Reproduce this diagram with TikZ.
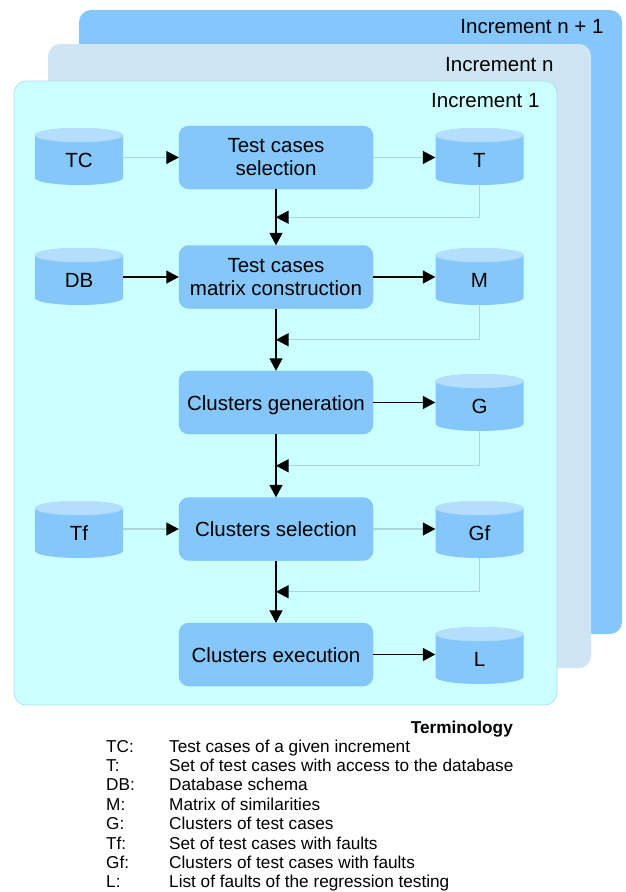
\documentclass[tikz,border=0pt]{standalone}
\usepackage{fontspec}
\setmainfont{Liberation Sans}
\usetikzlibrary{arrows.meta,calc}

\definecolor{panelback}{HTML}{85C7FC}
\definecolor{panelmid}{HTML}{CFE5F3}
\definecolor{panelfront}{HTML}{CCFFFF}
\definecolor{panelline}{HTML}{A9DDE6}
\definecolor{boxfill}{HTML}{85C7FA}
\definecolor{boxline}{HTML}{7DBDEB}
\definecolor{cyltop}{HTML}{B5DEFD}
\definecolor{flowlight}{HTML}{A9D5DD}

\tikzset{
  panel/.style={rounded corners=12pt},
  paneltitle/.style={anchor=east, font=\fontsize{20.5}{24}\selectfont},
  process/.style={draw=boxline, fill=boxfill, rounded corners=10pt,
    minimum width=194pt, minimum height=63pt, align=center, inner sep=0pt,
    font=\fontsize{20.5}{23}\selectfont},
  oneline/.style={text height=18pt, text depth=2.4pt},
  store/.style={minimum width=88pt, minimum height=57pt, inner sep=0pt,
    text height=22pt, text depth=0.4pt,
    font=\fontsize{20.5}{24}\selectfont},
  tip/.style={-{Triangle[length=12.5pt,width=13pt,color=black,fill=black]}},
  strong/.style={tip, draw=black, line width=1.3pt},
  faint/.style={tip, draw=flowlight, line width=1.1pt},
  term/.style={anchor=base west, inner sep=0pt, font=\fontsize{17.2}{19}\selectfont},
}

% database cylinder: #1 name, #2 x centre, #3 top edge (downwards), #4 label
\newcommand\storage[4]{%
  \begin{scope}[shift={(#2,-#3)}]
    \fill[boxfill] (-44,-7) -- (-44,-50)
      arc[start angle=180,end angle=360,x radius=44pt,y radius=7pt]
      -- (44,-7) arc[start angle=0,end angle=180,x radius=44pt,y radius=7pt] -- cycle;
    \fill[cyltop] (0,-7) ellipse[x radius=44pt,y radius=7pt];
    \draw[cyltop!80!boxfill, line width=0.6pt] (-44,-7) arc[start angle=180,end angle=360,x radius=44pt,y radius=7pt];
  \end{scope}
  \node[store] (#1) at (#2,-#3-28.5) {#4};
}

\begin{document}
\begin{tikzpicture}[x=1pt,y=1pt]
\useasboundingbox (0,0) rectangle (625,-892);

% stacked increments
\fill[panel, panelback] (79,-10) rectangle (622,-634);
\node[paneltitle] (inc3) at (607,-27) {Increment n + 1};
\fill[panel, panelmid] (48,-44) rectangle (591,-668);
\node[paneltitle] (inc2) at (557,-65) {Increment n};
\draw[panel, fill=panelfront, draw=panelline, line width=0.6pt] (14,-81) rectangle (557,-705);
\node[paneltitle] (inc1) at (543,-101) {Increment 1};

% process steps
\node[process] (sel)  at (276,-157.5) {Test cases\\selection};
\node[process] (mat)  at (276,-277)   {Test cases\\matrix construction};
\node[process, oneline] (gen)  at (276,-402.5) {Clusters generation};
\node[process, oneline] (csel) at (276,-529)   {Clusters selection};
\node[process, oneline] (exe)  at (276,-654.5) {Clusters execution};

% data stores
\storage{TC}{79}{128}{TC}
\storage{T}{479.5}{128}{T}
\storage{DB}{79}{248}{DB}
\storage{M}{479.5}{248}{M}
\storage{G}{479.5}{374}{G}
\storage{Tf}{79}{501}{Tf}
\storage{Gf}{479.5}{501}{Gf}
\storage{L}{479.5}{627}{L}

% main flow
\draw[strong] (sel) -- (mat);
\draw[strong] (mat) -- (gen);
\draw[strong] (gen) -- (csel);
\draw[strong] (csel) -- (exe);

% inputs and outputs
\draw[faint]  (TC.east |- sel) -- (sel.west);
\draw[faint]  (sel.east) -- (T.west |- sel);
\draw[strong] (DB.east |- mat) -- (mat.west);
\draw[strong] (mat.east) -- (M.west |- mat);
\draw[strong] (gen.east) -- (G.west |- gen);
\draw[faint]  (Tf.east |- csel) -- (csel.west);
\draw[faint]  (csel.east) -- (Gf.west |- csel);
\draw[strong] (exe.east) -- (L.west |- exe);

% results fed back into the flow
\coordinate (j1) at ($(sel.south)!0.5!(mat.north)$);
\coordinate (j2) at ($(mat.south)!0.5!(gen.north)$);
\coordinate (j3) at ($(gen.south)!0.5!(csel.north)$);
\coordinate (j4) at ($(csel.south)!0.5!(exe.north)$);
\draw[faint] (T.south) |- (j1);
\draw[faint] (M.south) |- (j2);
\draw[faint] (G.south) |- (j3);
\draw[faint] (Gf.south) |- (j4);

% terminology
\node[anchor=base east, inner sep=0pt, font=\fontsize{17.2}{19}\selectfont\bfseries] (termhead) at (513,-733) {Terminology};
\foreach \n/\a/\d [count=\i from 0] in {
  tc/TC:/Test cases of a given increment,
  t/T:/Set of test cases with access to the database,
  db/DB:/Database schema,
  m/M:/Matrix of similarities,
  g/G:/Clusters of test cases,
  tf/Tf:/Set of test cases with faults,
  gf/Gf:/Clusters of test cases with faults,
  l/L:/List of faults of the regression testing}{
  \node[term] (abbr-\n) at (106,-752-19.4*\i) {\a};
  \node[term] (desc-\n) at (169,-752-19.4*\i) {\d};
}
\end{tikzpicture}
\end{document}
